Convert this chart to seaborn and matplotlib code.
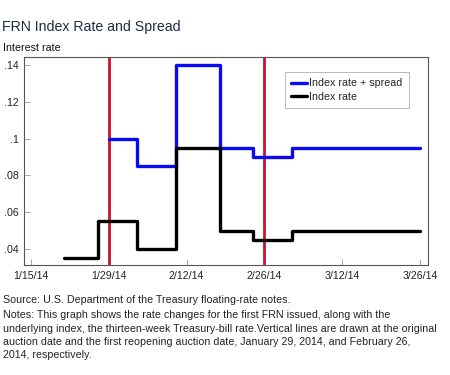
import numpy as np
import pandas as pd
import matplotlib
matplotlib.use("Agg")
import matplotlib.pyplot as plt
import matplotlib.dates as mdates
import seaborn as sns

# step dates (value holds until the next date); last entry repeats to close the step
index_dates = ["2014-01-21", "2014-01-27", "2014-02-03", "2014-02-10", "2014-02-18",
               "2014-02-24", "2014-03-03", "2014-03-26"]
index_rate = [0.035, 0.055, 0.040, 0.095, 0.050, 0.045, 0.050, 0.050]

spread_dates = ["2014-01-29", "2014-02-03", "2014-02-10", "2014-02-18",
                "2014-02-24", "2014-03-03", "2014-03-26"]
index_plus_spread = [0.100, 0.085, 0.140, 0.095, 0.090, 0.095, 0.095]

auction_dates = ["2014-01-29", "2014-02-26"]
x_ticks = ["2014-01-15", "2014-01-29", "2014-02-12", "2014-02-26", "2014-03-12", "2014-03-26"]
y_ticks = [0.04, 0.06, 0.08, 0.10, 0.12, 0.14]
y_labels = [".04", ".06", ".08", ".1", ".12", ".14"]

sns.set_style("ticks")
plt.rcParams["font.family"] = ["Liberation Sans", "DejaVu Sans"]

df = pd.concat([
    pd.DataFrame({"date": pd.to_datetime(spread_dates), "rate": index_plus_spread,
                  "series": "Index rate + spread"}),
    pd.DataFrame({"date": pd.to_datetime(index_dates), "rate": index_rate,
                  "series": "Index rate"}),
])

fig = plt.figure(figsize=(4.5, 3.75), dpi=100)
ax = fig.add_axes([0.0533, 0.2933, 0.8977, 0.5547])

for d in auction_dates:
    ax.axvline(pd.Timestamp(d), color="#C8102E", lw=2.0, zorder=1)

sns.lineplot(data=df, x="date", y="rate", hue="series",
             palette={"Index rate + spread": "#0A0AF0", "Index rate": "black"},
             drawstyle="steps-post", lw=2.4, ax=ax, zorder=3)

ax.set_xlim(pd.Timestamp("2014-01-15") - pd.Timedelta(days=1.25),
            pd.Timestamp("2014-03-26") + pd.Timedelta(days=1.4))
ax.set_ylim(0.0313, 0.1443)
ax.set_xticks(pd.to_datetime(x_ticks))
ax.xaxis.set_major_formatter(mdates.DateFormatter("%-m/%d/%y"))
ax.set_yticks(y_ticks)
ax.set_yticklabels(y_labels)
ax.tick_params(direction="in", length=4, width=0.6, color="#999999",
               labelsize=7.7, labelcolor="#222222", pad=4)
ax.set_xlabel("")
ax.set_ylabel("")
for s in ax.spines.values():
    s.set_visible(True)
    s.set_linewidth(0.8)
    s.set_color("#555555")

leg = ax.legend(loc="upper right", bbox_to_anchor=(0.953, 0.928), fontsize=7.7,
                frameon=True, fancybox=False, handlelength=1.5, handletextpad=0.2,
                borderpad=0.6, labelspacing=0.3, borderaxespad=0, title=None)
leg.get_frame().set_edgecolor("#999999")
leg.get_frame().set_linewidth(0.6)

fig.text(0.005, 0.928, "FRN Index Rate and Spread", fontsize=10.2, color="#1F2A44",
         va="center", ha="left")
fig.text(0.007, 0.872, "Interest rate", fontsize=7.7, color="#111111", va="center")
fig.text(0.007, 0.20, "Source: U.S. Department of the Treasury floating-rate notes.",
         fontsize=7.7, color="#222222", va="center")
notes = ("Notes: This graph shows the rate changes for the first FRN issued, along with the\n"
         "underlying index, the thirteen-week Treasury-bill rate.Vertical lines are drawn at the original\n"
         "auction date and the first reopening auction date, January 29, 2014, and February 26,\n"
         "2014, respectively.")
fig.text(0.007, 0.172, notes, fontsize=7.7, color="#222222", va="top", linespacing=1.38)

fig.savefig("out.png", dpi=100)
